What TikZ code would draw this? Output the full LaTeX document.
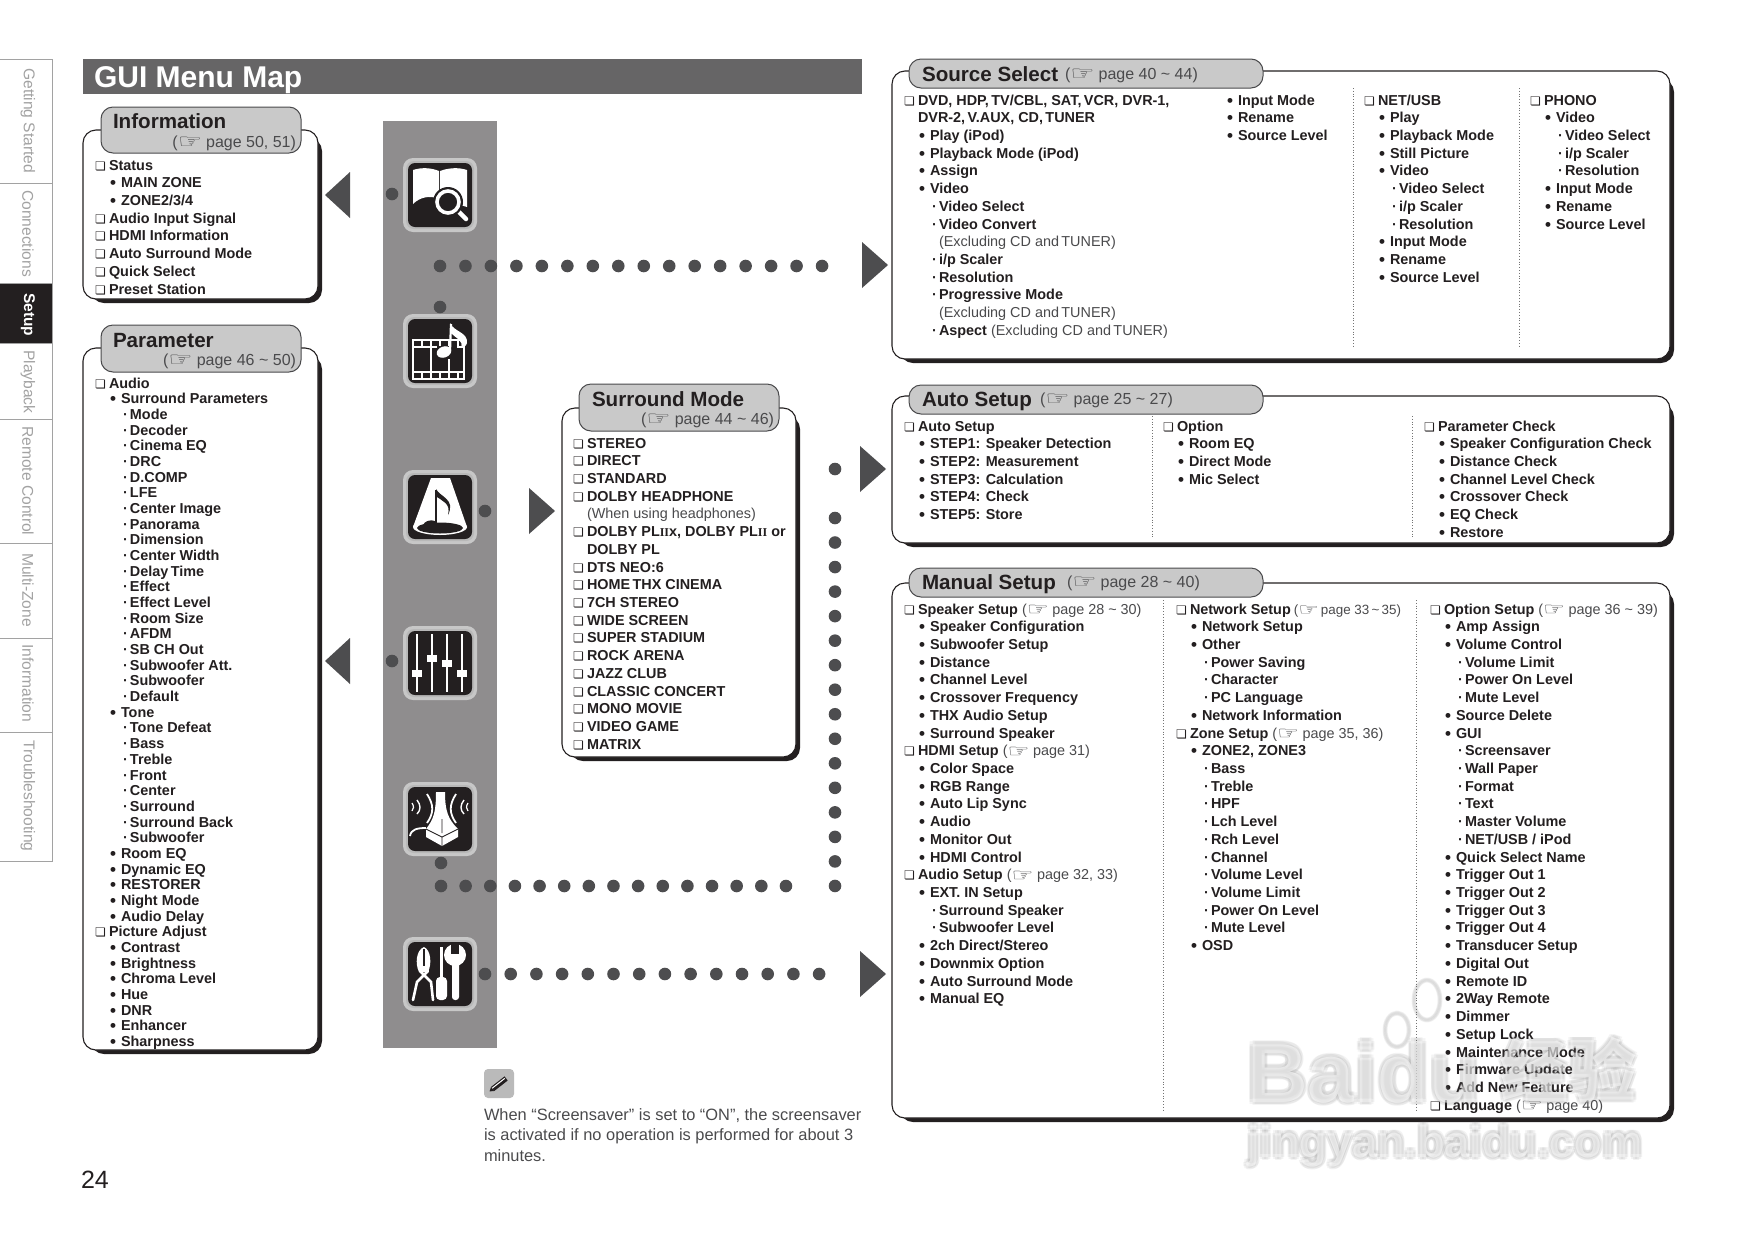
\documentclass[tikz,border=0pt]{standalone}
\usepackage{fontspec}
\usepackage{graphicx}
\setmainfont{Liberation Sans}
\newfontfamily\djv{DejaVu Sans}
\newfontfamily\serf{Liberation Serif}
\newfontfamily\cjkf{Noto Sans CJK SC}
\usetikzlibrary{calc}
\definecolor{ink}{HTML}{231F20}
\definecolor{soft}{HTML}{4A4A4C}
\definecolor{dotc}{HTML}{4D4D4F}
\definecolor{bandc}{HTML}{8F8D8E}
\definecolor{tabc}{HTML}{C9C9C9}
\definecolor{titlec}{HTML}{666566}
\definecolor{sidec}{HTML}{A2A2A2}
\newcommand\cbx{{\djv\bfseries\fontsize{12}{12}\selectfont ❏}}
\newcommand\hand{\raisebox{-1.8pt}{\djv\bfseries\scalebox{1.7}[1.25]{☞}}\kern-0.5pt}
\newcommand\tld{\textasciitilde}
\newcommand\bul{\raisebox{-1pt}{\fontsize{17}{17}\selectfont•}}
\newcommand\itA[1]{\hbox{\hbox to 14pt{\cbx\hss}#1}}
\newcommand\itB[1]{\hbox{\hskip 15pt\hbox to 11pt{\bul\hss}#1}}
\newcommand\itC[1]{\hbox{\hskip 28pt\hbox to 7pt{·\hss}#1}}
\newcommand\itD[1]{\hbox{\hskip 14pt #1}}
\newcommand\itE[1]{\hbox{\hskip 35pt #1}}
\newcommand\thin[1]{{\mdseries\color{soft}#1}}
\newcommand\lst[2][17.72]{\vtop{\fontsize{14.4}{#1}\selectfont\bfseries\baselineskip=#1pt\lineskiplimit=-100pt\relax #2}}
\tikzset{
  txt/.style={anchor=base west,inner sep=0,outer sep=0,text=ink},
  headtxt/.style={txt,font=\fontsize{20.6}{22}\selectfont\bfseries,text=ink},
  pagetxt/.style={txt,font=\fontsize{16}{18}\selectfont,text=soft},
  tabtxt/.style={anchor=north,inner sep=0,rotate=-90,font=\fontsize{15.6}{16}\selectfont,text=sidec},
  sideline/.style={draw=sidec,line width=0.9pt},
  tabbox/.style={draw=soft,fill=tabc,line width=1pt,rounded corners=12pt},
  frontbox/.style={draw=ink,fill=white,line width=1.1pt,rounded corners=13pt},
  backbox/.style={fill=ink,rounded corners=13pt},
  sep/.style={draw=black!55,line width=0.8pt,dotted},
  wdot/.style={fill=dotc},
  arrowh/.style={fill=dotc},
  wmtxt/.style={anchor=base west,inner sep=0,font=\fontsize{84}{84}\selectfont\bfseries},
  wmurl/.style={anchor=base west,inner sep=0,font=\fontsize{45}{45}\selectfont\bfseries},
  wmcjk/.style={anchor=base west,inner sep=0,font=\cjkf\fontsize{68}{68}\selectfont\bfseries},
}
\newcommand\panel[4]{%
  \fill[backbox] (#1+8,#2+8) rectangle (#3,#4);
  \path[frontbox] (#1,#2) rectangle (#3-4,#4-4);}
\newcommand\frameicon[2]{%
  \fill[black!22,rounded corners=10pt] (#1-37,#2-37) rectangle (#1+37,#2+37);
  \fill[black!28,rounded corners=8pt] (#1-34,#2-34) rectangle (#1+34,#2+34);
  \fill[ink,rounded corners=7pt] (#1-32,#2-32) rectangle (#1+32,#2+32);}
\begin{document}
\begin{tikzpicture}[x=1pt,y=-1pt]
\useasboundingbox (0,0) rectangle (1754,1240);
% side tabs
\fill[ink] (0,283) rectangle (52,343);
\draw[sideline] (0,59) -- (52,59) -- (52,861) -- (0,861);
\foreach \yy in {183,283,343,419,543,638,732} \draw[sideline] (0,\yy) -- (52,\yy);
\node[tabtxt,anchor=west] (t1) at (28,68) {Getting Started};
\node[tabtxt,anchor=west] (t2) at (28,190) {Connections};
\node[tabtxt,anchor=west,text=white,font=\fontsize{15.5}{16}\selectfont\bfseries] (t3) at (28,293) {Setup};
\node[tabtxt,anchor=west] (t4) at (28,350) {Playback};
\node[tabtxt,anchor=west] (t5) at (28,426) {Remote Control};
\node[tabtxt,anchor=west] (t6) at (28,553) {Multi-Zone};
\node[tabtxt,anchor=west] (t7) at (28,644) {Information};
\node[tabtxt,anchor=west] (t8) at (28,740) {Troubleshooting};
% title
\fill[titlec] (83,59) rectangle (862,94);
\node[txt,font=\fontsize{30}{30}\selectfont\bfseries,text=white] (title) at (94,87) {GUI Menu Map};
% band
\fill[bandc] (383,121) rectangle (497,1048);
% dots
\foreach \px/\py in {392/194,440/307,485/511,392/661,441/863,835/469} \fill[wdot] (\px,\py) circle (6.3);
\foreach \i in {0,...,15} \fill[wdot] (440+\i*25.47,266) circle (6.3);
\foreach \i in {0,...,14} \fill[wdot] (441+\i*24.64,886) circle (6.3);
\foreach \i in {0,...,13} \fill[wdot] (485+\i*25.7,974) circle (6.3);
\foreach \i in {0,...,15} \fill[wdot] (835,518+\i*24.53) circle (6.3);
% arrows
\fill[arrowh] (350,172) -- (325,195) -- (350,218) -- cycle;
\fill[arrowh] (350,638) -- (325,661) -- (350,684) -- cycle;
\fill[arrowh] (529,488) -- (555,511) -- (529,534) -- cycle;
\fill[arrowh] (862,242) -- (888,265) -- (862,288) -- cycle;
\fill[arrowh] (860,446) -- (886,469) -- (860,492) -- cycle;
\fill[arrowh] (860,951) -- (886,974) -- (860,997) -- cycle;
% icons
\frameicon{440}{195}
\begin{scope}[shift={(440,195)}]
 \fill[white] (-27,-25) .. controls (-18,-28) and (-8,-27) .. (-1,-24) -- (-1,4) .. controls (-10,0) and (-20,2) .. (-27,9) -- cycle;
 \fill[white] (0,-24) .. controls (8,-27) and (18,-28) .. (27,-25) -- (27,12) -- (0,4) -- cycle;
 \draw[white,line width=4.5pt,line cap=round] (18,16) -- (26,24);
 \fill[ink] (8,7) circle (15);
 \draw[white,line width=3.6pt] (8,7) circle (11);
\end{scope}
\frameicon{440}{351}
\begin{scope}[shift={(440,351)}]
 \draw[white,line width=2pt] (-27,-11) rectangle (24,28);
 \draw[white,line width=2pt] (-27,-4) -- (24,-4) (-27,21) -- (24,21) (-9,-4) -- (-9,21) (9,-4) -- (9,21);
 \foreach \xx in {-18,-9,0,9,18} \draw[white,line width=1.6pt] (\xx,-11) -- (\xx,-4) (\xx,21) -- (\xx,28);
 \fill[ink] (-3,-5) rectangle (17,8);
 \fill[white,rotate around={20:(4,1)}] (4,1) ellipse (7.5 and 5.5);
 \draw[white,line width=2.2pt] (10,0) -- (11,-27);
 \fill[white] (10,-28) .. controls (14,-19) and (28,-19) .. (27,-8) .. controls (26,-4) and (23,-4) .. (21,-3) .. controls (24,-11) and (15,-13) .. (11,-18) -- cycle;
\end{scope}
\frameicon{440}{507}
\begin{scope}[shift={(440,507)}]
 \fill[white] (-9,-29) -- (10,-29) -- (27,20) -- (-27,20) -- cycle;
 \fill[white] (0,20) ellipse (27 and 8);
 \fill[ink] (0,21) ellipse (23 and 5.5);
 \fill[ink,rotate around={12:(-10,18)}] (-10,18) ellipse (7 and 4.5);
 \draw[ink,line width=2.2pt] (-4,18) -- (-4,-17);
 \fill[ink] (-4,-18) .. controls (0,-10) and (16,-8) .. (8,8) .. controls (11,-4) and (2,-6) .. (-3,-10) -- cycle;
\end{scope}
\frameicon{440}{663}
\begin{scope}[shift={(440,663)}]
 \foreach \xx/\ky in {-23/10,-8/-5,7/0,22/10} {
  \draw[white,line width=2.4pt] (\xx,-29) -- (\xx,29);
  \fill[white] (\xx-5,\ky-3.5) rectangle (\xx+5,\ky+3.5);
 }
\end{scope}
\frameicon{440}{819}
\begin{scope}[shift={(440,819)}]
 \fill[white] (-4,-27) -- (5,-27) .. controls (5,-8) and (8,0) .. (18,10) -- (18,18) -- (2,27) -- (-14,18) -- (-14,10) .. controls (-6,0) and (-4,-8) .. (-4,-27) -- cycle;
 \draw[ink,line width=0.9pt] (-14,10) -- (2,18) -- (18,10) (2,18) -- (2,27) (2,0) -- (2,14);
 \draw[white,line width=1.8pt] (-13,-25) .. controls (-6,-14) and (-6,-6) .. (-13,4);
 \draw[white,line width=1.4pt] (-23,-19) .. controls (-19,-14) and (-19,-9) .. (-23,-5);
 \draw[white,line width=1.2pt] (-28,-16) .. controls (-26,-13) and (-26,-10) .. (-28,-8);
 \draw[white,line width=1.8pt] (16,-25) .. controls (9,-14) and (9,-6) .. (16,4);
 \draw[white,line width=1.4pt] (24,-19) .. controls (20,-14) and (20,-9) .. (24,-5);
 \draw[white,line width=1.2pt] (28,-16) .. controls (26,-13) and (26,-10) .. (28,-8);
 \draw[white,line width=1.8pt] (-14,9) .. controls (-22,9) and (-29,10) .. (-30,17);
\end{scope}
\frameicon{440}{974}
\begin{scope}[shift={(440,974)}]
 \fill[white] (-16,-27) .. controls (-24,-24) and (-25,-10) .. (-21,-2) -- (-12,-2) .. controls (-8,-10) and (-9,-24) .. (-16,-27) -- cycle;
 \draw[ink,line width=1.6pt] (-16,-25) -- (-16,-8);
 \draw[white,line width=2.6pt,line cap=round] (-20,-3) -- (-9,8) -- (-7,26);
 \draw[white,line width=2.6pt,line cap=round] (-12,-3) -- (-23,8) -- (-27,26);
 \fill[white] (0,-27) rectangle (3,4);
 \fill[white,rounded corners=4pt] (-4,3) rectangle (7,26);
 \fill[white] (15,-19) circle (11);
 \fill[ink] (11,-32) rectangle (19,-20);
 \fill[white,rounded corners=3pt] (12,-14) rectangle (19,26);
\end{scope}
% Information
\panel{83}{130}{322}{303}
\path[tabbox] (101,107) rectangle (301,153);
\node[headtxt] (h1) at (113,128) {Information};
\node[pagetxt,anchor=base east] (p1) at (296,147) {(\hand\ page 50, 51)};
\node[txt] (l1) at (95,170) {\lst{\itA{Status}\itB{MAIN ZONE}\itB{ZONE2/3/4}\itA{Audio Input Signal}\itA{HDMI Information}\itA{Auto Surround Mode}\itA{Quick Select}\itA{Preset Station}}};
% Parameter
\panel{83}{348}{322}{1054}
\path[tabbox] (101,325) rectangle (301,372);
\node[headtxt] (h2) at (113,347) {Parameter};
\node[pagetxt,anchor=base east] (p2) at (296,365) {(\hand\ page 46 \tld\ 50)};
\node[txt] (l2) at (95,388) {\lst[15.68]{\itA{Audio}\itB{Surround Parameters}\itC{Mode}\itC{Decoder}\itC{Cinema EQ}\itC{DRC}\itC{D.COMP}\itC{LFE}\itC{Center Image}\itC{Panorama}\itC{Dimension}\itC{Center Width}\itC{Delay\,Time}\itC{Effect}\itC{Effect Level}\itC{Room Size}\itC{AFDM}\itC{SB CH Out}\itC{Subwoofer Att.}\itC{Subwoofer}\itC{Default}\itB{Tone}\itC{Tone Defeat}\itC{Bass}\itC{Treble}\itC{Front}\itC{Center}\itC{Surround}\itC{Surround Back}\itC{Subwoofer}\itB{Room EQ}\itB{Dynamic EQ}\itB{RESTORER}\itB{Night Mode}\itB{Audio Delay}\itA{Picture Adjust}\itB{Contrast}\itB{Brightness}\itB{Chroma Level}\itB{Hue}\itB{DNR}\itB{Enhancer}\itB{Sharpness}}};
% Surround Mode
\panel{562}{408}{800}{761}
\path[tabbox] (579,384) rectangle (779,431);
\node[headtxt] (h3) at (592,406) {Surround Mode};
\node[pagetxt,anchor=base east] (p3) at (774,424) {(\hand\ page 44 \tld\ 46)};
\node[txt] (l3) at (573,448) {\lst{\itA{STEREO}\itA{DIRECT}\itA{STANDARD}\itA{DOLBY HEADPHONE}\itD{\thin{(When using headphones)}}\itA{DOLBY PL{\serf\fontsize{12}{12}\selectfont II}x, DOLBY PL{\serf\fontsize{12}{12}\selectfont II} or}\itD{DOLBY PL}\itA{DTS NEO:6}\itA{HOME\,THX CINEMA}\itA{7CH STEREO}\itA{WIDE SCREEN}\itA{SUPER STADIUM}\itA{ROCK ARENA}\itA{JAZZ CLUB}\itA{CLASSIC CONCERT}\itA{MONO MOVIE}\itA{VIDEO GAME}\itA{MATRIX}}};
% Source Select
\panel{892}{71}{1674}{363}
\path[tabbox] (909,59) rectangle (1263,88);
\node[headtxt] (h4) at (922,81) {Source Select};
\node[pagetxt] (p4) at (1065,79) {(\hand\ page 40 \tld\ 44)};
\node[txt] (l4a) at (904,105) {\lst{\itA{DVD, HDP,\,TV/CBL, SAT,\,VCR, DVR-1,}\itD{DVR-2,\,V.AUX, CD,\,TUNER}\itB{Play (iPod)}\itB{Playback Mode (iPod)}\itB{Assign}\itB{Video}\itC{Video Select}\itC{Video Convert}\itE{\thin{(Excluding CD and\,TUNER)}}\itC{i/p Scaler}\itC{Resolution}\itC{Progressive Mode}\itE{\thin{(Excluding CD and\,TUNER)}}\itC{Aspect \thin{(Excluding CD and\,TUNER)}}}};
\node[txt] (l4b) at (1212,105) {\lst{\itB{Input Mode}\itB{Rename}\itB{Source Level}}};
\draw[sep] (1353,88) -- (1353,348);
\node[txt] (l4c) at (1364,105) {\lst{\itA{NET/USB}\itB{Play}\itB{Playback Mode}\itB{Still Picture}\itB{Video}\itC{Video Select}\itC{i/p Scaler}\itC{Resolution}\itB{Input Mode}\itB{Rename}\itB{Source Level}}};
\draw[sep] (1519,88) -- (1519,348);
\node[txt] (l4d) at (1530,105) {\lst{\itA{PHONO}\itB{Video}\itC{Video Select}\itC{i/p Scaler}\itC{Resolution}\itB{Input Mode}\itB{Rename}\itB{Source Level}}};
% Auto Setup
\panel{892}{396}{1674}{547}
\path[tabbox] (909,385) rectangle (1263,414);
\node[headtxt] (h5) at (922,406) {Auto Setup};
\node[pagetxt] (p5) at (1040,404) {(\hand\ page 25 \tld\ 27)};
\node[txt] (l5a) at (904,431) {\lst{\itA{Auto Setup}\itB{STEP1: Speaker Detection}\itB{STEP2: Measurement}\itB{STEP3: Calculation}\itB{STEP4: Check}\itB{STEP5: Store}}};
\draw[sep] (1152,416) -- (1152,538);
\node[txt] (l5b) at (1163,431) {\lst{\itA{Option}\itB{Room EQ}\itB{Direct Mode}\itB{Mic Select}}};
\draw[sep] (1412,416) -- (1412,538);
\node[txt] (l5c) at (1424,431) {\lst{\itA{Parameter Check}\itB{Speaker Configuration Check}\itB{Distance Check}\itB{Channel Level Check}\itB{Crossover Check}\itB{EQ Check}\itB{Restore}}};
% Manual Setup
\panel{892}{583}{1674}{1122}
\path[tabbox] (909,568) rectangle (1263,597);
\node[headtxt] (h6) at (922,589) {Manual Setup};
\node[pagetxt] (p6) at (1067,587) {(\hand\ page 28 \tld\ 40)};
\node[txt] (l6a) at (904,614) {\lst{\itA{Speaker Setup \thin{(\hand\ page 28 \tld\ 30)}}\itB{Speaker Configuration}\itB{Subwoofer Setup}\itB{Distance}\itB{Channel Level}\itB{Crossover Frequency}\itB{THX Audio Setup}\itB{Surround Speaker}\itA{HDMI Setup \thin{(\hand\ page 31)}}\itB{Color Space}\itB{RGB Range}\itB{Auto Lip Sync}\itB{Audio}\itB{Monitor Out}\itB{HDMI Control}\itA{Audio Setup \thin{(\hand\ page 32, 33)}}\itB{EXT. IN Setup}\itC{Surround Speaker}\itC{Subwoofer Level}\itB{2ch Direct/Stereo}\itB{Downmix Option}\itB{Auto Surround Mode}\itB{Manual EQ}}};
\draw[sep] (1163,600) -- (1163,1111);
\node[txt] (l6b) at (1176,614) {\lst{\itA{Network Setup\kern3pt\thin{\fontsize{13.4}{14}\selectfont(\hand\kern-1pt\ page 33\,\tld\,35)}}\itB{Network Setup}\itB{Other}\itC{Power Saving}\itC{Character}\itC{PC Language}\itB{Network Information}\itA{Zone Setup \thin{(\hand\ page 35, 36)}}\itB{ZONE2, ZONE3}\itC{Bass}\itC{Treble}\itC{HPF}\itC{Lch Level}\itC{Rch Level}\itC{Channel}\itC{Volume Level}\itC{Volume Limit}\itC{Power On Level}\itC{Mute Level}\itB{OSD}}};
\draw[sep] (1416,600) -- (1416,1111);
\node[txt] (l6c) at (1430,614) {\lst{\itA{Option Setup \thin{(\hand\ page 36 \tld\ 39)}}\itB{Amp Assign}\itB{Volume Control}\itC{Volume Limit}\itC{Power On Level}\itC{Mute Level}\itB{Source Delete}\itB{GUI}\itC{Screensaver}\itC{Wall Paper}\itC{Format}\itC{Text}\itC{Master Volume}\itC{NET/USB / iPod}\itB{Quick Select Name}\itB{Trigger Out 1}\itB{Trigger Out 2}\itB{Trigger Out 3}\itB{Trigger Out 4}\itB{Transducer Setup}\itB{Digital Out}\itB{Remote ID}\itB{2Way Remote}\itB{Dimmer}\itB{Setup Lock}\itB{Maintenance Mode}\itB{Firmware Update}\itB{Add New Feature}\itA{Language \thin{(\hand\ page 40)}}}};
% note
\fill[black!27,rounded corners=4pt] (484,1069) rectangle (514,1098);
\begin{scope}[shift={(499,1084)},rotate=38]
 \fill[ink] (-8,-2.6) -- (9,-2.6) -- (9,2.6) -- (-8,2.6) -- cycle;
 \fill[ink] (-8,-2.6) -- (-12,0) -- (-8,2.6) -- cycle;
 \fill[white] (-8,-1.4) -- (8,-1.4) -- (8,-0.4) -- (-8,-0.4) -- cycle;
\end{scope}
\node[txt,text=soft] (note) at (484,1120) {\vtop{\fontsize{16.4}{20.9}\selectfont\baselineskip=20.9pt\hbox{When “Screensaver” is set to “ON”, the screensaver}\hbox{is activated if no operation is performed for about 3}\hbox{minutes.}}};
\node[txt,font=\fontsize{25}{26}\selectfont,text=ink] (pgno) at (81,1188) {24};
% watermark
\begin{scope}
 \foreach \a in {0,45,...,315} {
  \node[wmtxt,text=black!60,text opacity=.07] at ($(1247,1102)+(\a:3.2)$) {Baidu};
  \node[wmcjk,text=black!60,text opacity=.07] at ($(1500,1096)+(\a:3)$) {经验};
  \node[wmurl,text=black!60,text opacity=.08] at ($(1247,1157)+(\a:3)$) {jingyan.baidu.com};
  \draw[black!60,opacity=.05,line width=2pt] ($(1427,1000)+(\a:1.5)$) ellipse (13 and 20);
  \draw[black!60,opacity=.05,line width=2pt] ($(1397,1030)+(\a:1.5)$) ellipse (12 and 17);
 }
 \node[wmtxt,text=white,text opacity=.55] (wm1) at (1247,1102) {Baidu};
 \node[wmcjk,text=white,text opacity=.55] (wm2) at (1500,1096) {经验};
 \node[wmurl,text=white,text opacity=.55] (wm3) at (1247,1157) {jingyan.baidu.com};
\end{scope}
\end{tikzpicture}
\end{document}
